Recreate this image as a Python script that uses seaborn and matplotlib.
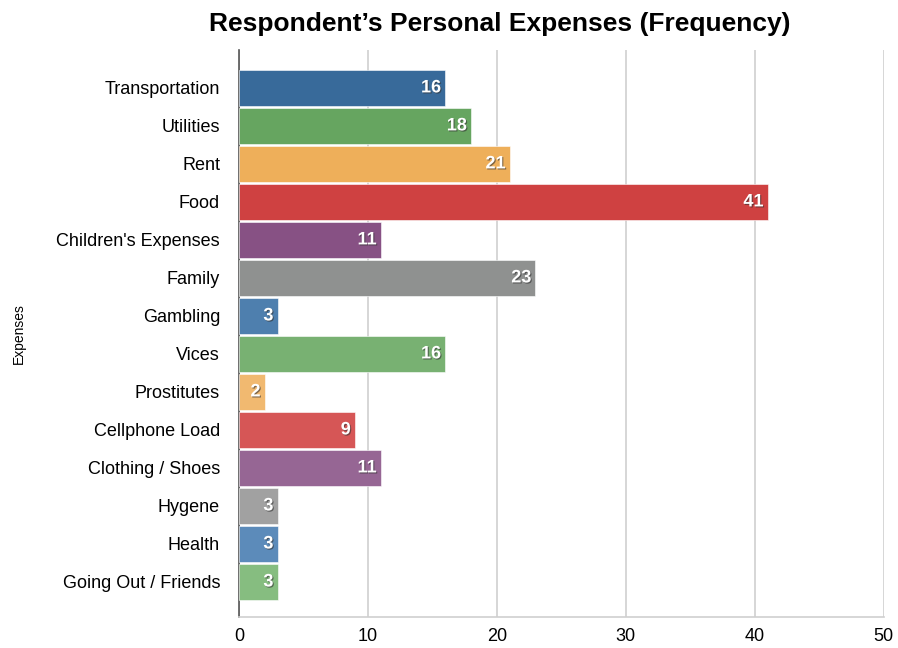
import matplotlib
matplotlib.use("Agg")
import matplotlib.pyplot as plt
import matplotlib.patheffects as pe
import pandas as pd
import seaborn as sns

# Data
expenses = [
    "Transportation", "Utilities", "Rent", "Food", "Children's Expenses",
    "Family", "Gambling", "Vices", "Prostitutes", "Cellphone Load",
    "Clothing / Shoes", "Hygene", "Health", "Going Out / Friends",
]
frequency = [16, 18, 21, 41, 11, 23, 3, 16, 2, 9, 11, 3, 3, 3]
bar_colors = [
    "#386a9a", "#66a560", "#eeaf5a", "#cf4141", "#875184", "#8f9190",
    "#4e7fae", "#78b172", "#f1b970", "#d65656", "#966694", "#a1a1a1",
    "#5c8bba", "#86bd80",
]
x_ticks = [0, 10, 20, 30, 40, 50]

data = pd.DataFrame({"expense": expenses, "frequency": frequency})

sns.set_style("white")
plt.rcParams["font.family"] = ["Liberation Sans", "DejaVu Sans"]
plt.rcParams["text.color"] = "black"

fig = plt.figure(figsize=(8.98, 6.48), dpi=100)
ax = fig.add_axes([0.266, 0.048, 0.718, 0.875])

sns.barplot(
    data=data, x="frequency", y="expense", hue="expense",
    palette=bar_colors, saturation=1, orient="h", width=0.94, legend=False,
    edgecolor="#ffffff", linewidth=0.4, ax=ax, zorder=3,
)

# value labels inside the bar ends
shadow = [pe.withSimplePatchShadow(offset=(0.8, -0.8), shadow_rgbFace="#333333", alpha=0.6)]
for i, v in enumerate(frequency):
    ax.annotate(
        str(v), xy=(v, i), xytext=(-3, 0), textcoords="offset points",
        ha="right", va="center", color="white", fontsize=13,
        fontweight="bold", path_effects=shadow, zorder=4,
    )

ax.set_xlim(0, 50)
ax.set_ylim(13.92, -1.0)
ax.set_xticks(x_ticks)
ax.set_xticklabels([str(t) for t in x_ticks])
ax.grid(axis="x", color="#cfcfcf", linewidth=1.2, zorder=0)
ax.grid(axis="y", visible=False)

ax.spines["top"].set_visible(False)
ax.spines["right"].set_visible(False)
ax.spines["left"].set_color("#555555")
ax.spines["left"].set_linewidth(1.2)
ax.spines["bottom"].set_color("#cfcfcf")
ax.spines["bottom"].set_linewidth(1.2)

ax.tick_params(axis="both", length=0, labelsize=13, colors="black")
ax.tick_params(axis="y", pad=13.5)
ax.tick_params(axis="x", pad=8)

ax.set_xlabel("")
ax.set_ylabel("Expenses", fontsize=10, color="black")
ax.yaxis.set_label_coords(-0.33, 0.5)

fig.suptitle("Respondent\u2019s Personal Expenses (Frequency)",
             fontsize=19, fontweight="bold", x=0.557, y=0.982)

fig.savefig("out.png", dpi=100)
